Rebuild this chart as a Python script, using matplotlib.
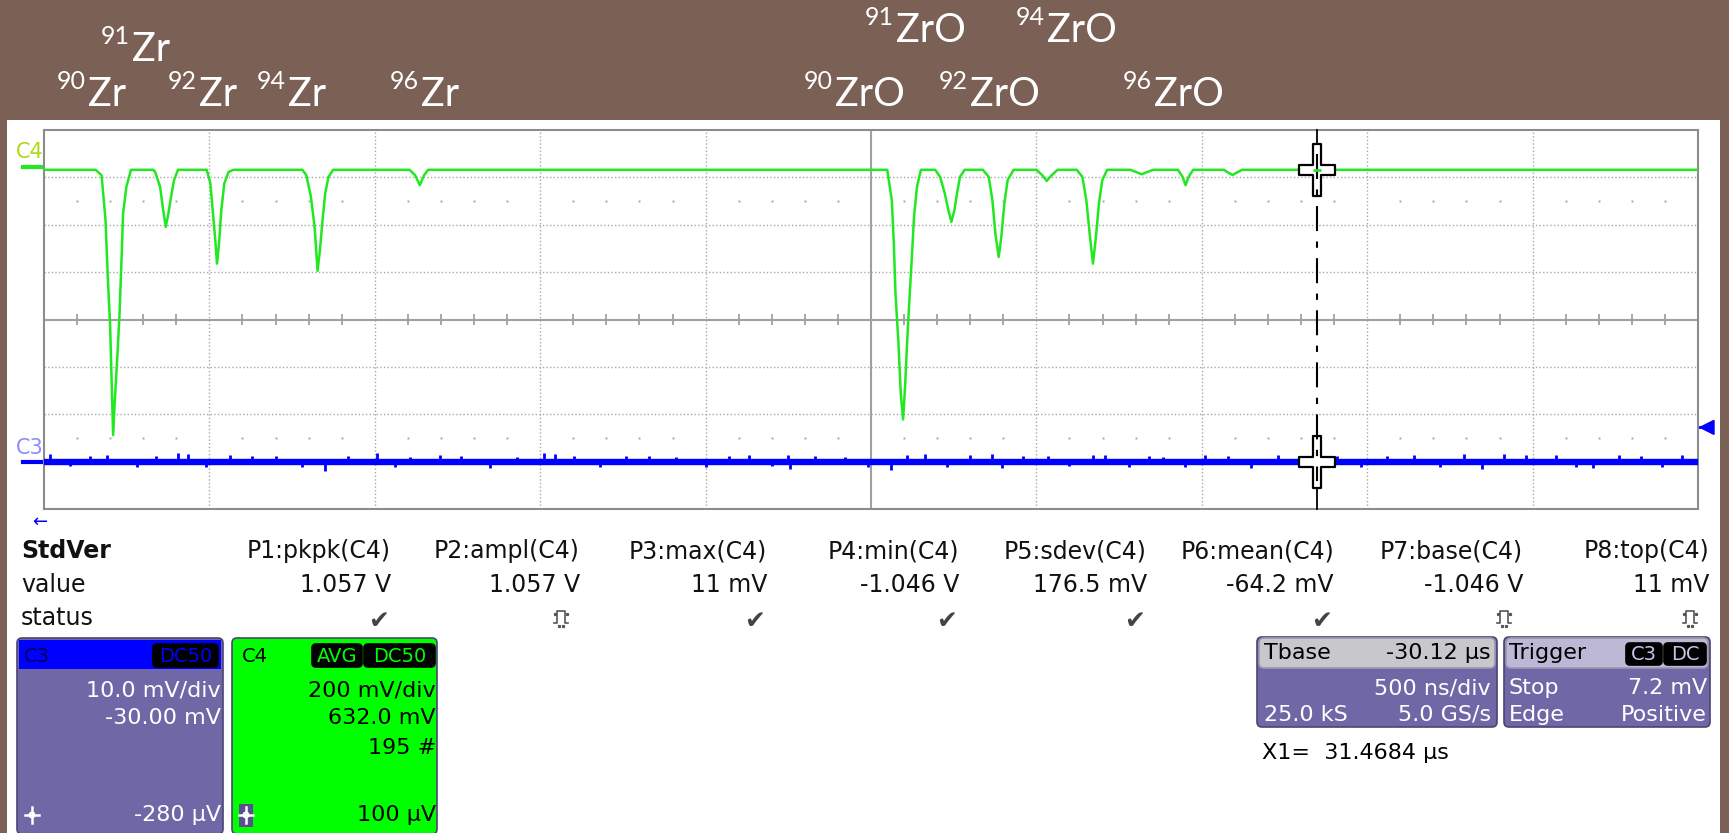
import matplotlib
matplotlib.use("Agg")
import matplotlib.pyplot as plt
from matplotlib.patches import Rectangle, FancyBboxPatch, Polygon, Circle
from matplotlib.path import Path

# ---------------- data ----------------
# C4 (green, averaged TOF signal): polyline vertices, time in us, amplitude in V
c4_time_us = [
    27.620,
    27.776, 27.794, 27.806, 27.813, 27.820, 27.826, 27.829, 27.834, 27.841, 27.848, 27.855, 27.859, 27.869, 27.883,  # 90Zr
    27.950, 27.956, 27.971, 27.979, 27.988, 27.996, 28.004, 28.013, 28.025,  # 91Zr
    28.112, 28.123, 28.130, 28.137, 28.143, 28.149, 28.156, 28.165, 28.178, 28.193,  # 92Zr
    28.401, 28.413, 28.427, 28.438, 28.447, 28.454, 28.461, 28.470, 28.480, 28.494,  # 94Zr
    28.725, 28.742, 28.756, 28.769, 28.781,  # 96Zr
    30.169, 30.183, 30.189, 30.194, 30.203, 30.210, 30.217, 30.223, 30.229, 30.236, 30.243, 30.250, 30.259, 30.271,  # 90ZrO
    30.314, 30.329, 30.343, 30.354, 30.363, 30.372, 30.380, 30.389, 30.403,  # 91ZrO
    30.458, 30.476, 30.487, 30.496, 30.506, 30.514, 30.523, 30.533, 30.551,  # 92ZrO
    30.620, 30.638, 30.651, 30.666, 30.684,  # 93ZrO
    30.742, 30.759, 30.771, 30.782, 30.791, 30.800, 30.809, 30.819, 30.834,  # 94ZrO
    30.904, 30.921, 30.938, 30.956, 30.973,
    31.048, 31.062, 31.071, 31.080, 31.094,  # 96ZrO
    31.187, 31.201, 31.213, 31.227, 31.242,
    32.620,
]
c4_volts = [
    0.0,
    0.0, -0.023, -0.213, -0.459, -0.663, -0.973, -1.120, -0.973, -0.804, -0.621, -0.353, -0.185, -0.072, 0.0,
    0.0, -0.009, -0.072, -0.157, -0.241, -0.185, -0.115, -0.044, 0.0,
    0.0, -0.058, -0.171, -0.283, -0.396, -0.311, -0.171, -0.058, -0.009, 0.0,
    0.0, -0.023, -0.115, -0.241, -0.427, -0.340, -0.227, -0.100, -0.030, 0.0,
    0.0, -0.023, -0.065, -0.023, 0.0,
    0.0, -0.129, -0.311, -0.522, -0.733, -0.944, -1.054, -0.916, -0.733, -0.551, -0.382, -0.199, -0.072, 0.0,
    0.0, -0.030, -0.100, -0.171, -0.220, -0.171, -0.100, -0.030, 0.0,
    0.0, -0.030, -0.129, -0.269, -0.368, -0.283, -0.143, -0.044, 0.0,
    0.0, -0.023, -0.047, -0.023, 0.0,
    0.0, -0.030, -0.129, -0.283, -0.396, -0.283, -0.143, -0.044, 0.0,
    0.0, -0.009, -0.019, -0.009, 0.0,
    0.0, -0.030, -0.065, -0.030, 0.0,
    0.0, -0.013, -0.022, -0.011, 0.0,
    0.0,
]

# C3 (blue trigger channel): flat level plus the visible noise spikes (us, mV)
c3_level_mv = 0.0
c3_spike_time_us = [27.638, 27.700, 27.760, 27.811, 27.900, 27.960, 28.025, 28.054, 28.110, 28.181,
                    28.250, 28.320, 28.400, 28.470, 28.540, 28.627, 28.680, 28.725, 28.817, 28.880,
                    28.968, 29.050, 29.130, 29.165, 29.222, 29.300, 29.380, 29.450, 29.530, 29.620,
                    29.690, 29.750, 29.820, 29.868, 29.875, 29.950, 30.040, 30.110, 30.181, 30.230,
                    30.284, 30.350, 30.420, 30.487, 30.516, 30.580, 30.655, 30.720, 30.790, 30.828,
                    30.900, 30.960, 31.002, 31.070, 31.129, 31.200, 31.270, 31.349, 31.420, 31.530,
                    31.600, 31.680, 31.760, 31.840, 31.912, 31.968, 32.035, 32.100, 32.191, 32.250,
                    32.303, 32.380, 32.448, 32.510, 32.571]
c3_spike_mv = [1.6, -1.0, 1.1, 1.4, -1.1, 1.2, 1.8, 1.6, -1.2, 1.3,
               1.1, 1.2, -1.2, -2.0, 1.1, 1.8, -1.1, 1.0, 1.4, 1.1,
               -1.4, 1.0, 1.8, 1.6, 1.2, -1.1, 1.2, 1.2, 1.0, -1.2,
               1.1, 1.4, -1.0, 1.5, -1.6, 1.2, 1.0, -1.1, -1.8, 1.3,
               1.6, -1.2, 1.3, 1.7, -1.4, 1.1, 1.2, -1.0, 1.3, 1.4,
               -1.1, 1.1, 1.0, -1.2, 1.3, 1.1, -1.3, 1.5, 1.0, 1.2,
               -1.1, 1.2, 1.4, -1.2, 1.6, -1.5, 1.7, 1.3, 1.4, -1.2,
               -1.3, 1.4, 1.2, -1.1, 1.5]

# scope settings (from the info boxes)
C4_VDIV = 0.200      # V/div
C4_OFFSET = 0.632    # V
C3_VDIV = 10.0       # mV/div
C3_OFFSET = -30.0    # mV
TBASE_US = -30.12
TDIV_US = 0.5
CURSOR_X1_US = 31.4684
TRIG_LEVEL_MV = 7.2

# isotope labels above the trace
iso_mass = ["90", "91", "92", "94", "96", "91", "94", "90", "92", "96"]
iso_name = ["Zr", "Zr", "Zr", "Zr", "Zr", "ZrO", "ZrO", "ZrO", "ZrO", "ZrO"]

# measurement table
param_names = ["P1:pkpk(C4)", "P2:ampl(C4)", "P3:max(C4)", "P4:min(C4)",
               "P5:sdev(C4)", "P6:mean(C4)", "P7:base(C4)", "P8:top(C4)"]
param_values = ["1.057 V", "1.057 V", "11 mV", "-1.046 V",
                "176.5 mV", "-64.2 mV", "-1.046 V", "11 mV"]
param_ok = [True, False, True, True, True, True, False, False]

# ---------------- layout (pixels of the 1729x833 image) ----------------
W, H = 1729, 833
BROWN = "#7a6055"
GREEN = "#22e822"
BLUE = "#0000ff"
PURPLE = "#7068a6"
FONT = "DejaVu Sans"

fig = plt.figure(figsize=(W / 100, H / 100), dpi=100, facecolor=BROWN)
renderer = fig.canvas.get_renderer()

bg = fig.add_axes([0, 0, 1, 1], zorder=0)
bg.set_xlim(0, W)
bg.set_ylim(H, 0)
bg.axis("off")
bg.add_patch(Rectangle((7, 120), 1713, 713, facecolor="white", edgecolor="none"))

# isotope labels: (superscript x, baseline y); the name follows the superscript
label_pos = [(57, 106), (101, 61), (168, 106), (257, 106), (390, 106),
             (865, 42), (1016, 42), (804, 106), (939, 106), (1123, 106)]
for m, n, (xs, yb) in zip(iso_mass, iso_name, label_pos):
    sup = bg.text(xs, yb - 17, m, color="white", fontsize=18, family="Lato",
                  ha="left", va="baseline")
    x_end = sup.get_window_extent(renderer).x1
    bg.text(x_end + 2, yb, n, color="white", fontsize=28.5, family="Lato",
            ha="left", va="baseline")

# ---------------- scope grid ----------------
x0, x1, y0, y1 = 44, 1698, 130, 509
ax = fig.add_axes([x0 / W, 1 - y1 / H, (x1 - x0) / W, (y1 - y0) / H], zorder=1)
t_center = -TBASE_US
ax.set_xlim(t_center - 5 * TDIV_US, t_center + 5 * TDIV_US)
ax.set_ylim(-4, 4)
ax.set_xticks([])
ax.set_yticks([])
for s in ax.spines.values():
    s.set_color("#8c8c8c")
    s.set_linewidth(1.5)

grid_kw = dict(color="#a8a8a8", lw=1.0, ls=(0, (1, 1.6)), zorder=1)
for k in range(1, 10):
    if k != 5:
        ax.axvline(t_center + (k - 5) * TDIV_US, **grid_kw)
for d in [-3, -2, -1, 1, 2, 3]:
    ax.axhline(d, **grid_kw)
ax.axvline(t_center, color="#a0a0a0", lw=1.5, zorder=1)
ax.axhline(0, color="#a0a0a0", lw=1.5, zorder=1)
minor_t = [t_center - 2.5 + 0.1 * i for i in range(1, 50) if i % 5]
ax.vlines(minor_t, -0.11, 0.11, color="#a0a0a0", lw=1.3, zorder=1)
for row in (2.5, -2.5):
    ax.plot(minor_t, [row] * len(minor_t), ls="none", marker="s", ms=1.4,
            color="#a8a8a8", mec="none", zorder=1)

# ---------------- traces ----------------
c4_div = [(v + C4_OFFSET) / C4_VDIV for v in c4_volts]
ax.plot(c4_time_us, c4_div, color=GREEN, lw=1.8, zorder=3)

c3_div = (c3_level_mv + C3_OFFSET) / C3_VDIV
ax.axhline(c3_div, color=BLUE, lw=4.6, zorder=3)
ax.vlines(c3_spike_time_us, c3_div, [(v + C3_OFFSET) / C3_VDIV for v in c3_spike_mv],
          color=BLUE, lw=2.0, zorder=3)

# ---------------- cursor ----------------
hw, hh, vw, vh = 18, 5.5, 4.5, 26.5
cross = Path([(-vw, vh), (vw, vh), (vw, hh), (hw, hh), (hw, -hh), (vw, -hh), (vw, -vh),
              (-vw, -vh), (-vw, -hh), (-hw, -hh), (-hw, hh), (-vw, hh), (-vw, vh)], closed=True)
c4_base = (0.0 + C4_OFFSET) / C4_VDIV
ax.plot([CURSOR_X1_US, CURSOR_X1_US], [4, c4_base], color="black", lw=1.3, zorder=4, clip_on=False)
ax.plot([CURSOR_X1_US, CURSOR_X1_US], [-4, c3_div], color="black", lw=1.3, zorder=4, clip_on=False)
ax.plot([CURSOR_X1_US] * 2, [c4_base, c3_div], ls="none", marker=cross, ms=2 * vh * 0.72,
        mfc="white", mec="black", mew=1.6, zorder=5, clip_on=False)
ax.plot([CURSOR_X1_US, CURSOR_X1_US], [3.5, -3.4], color="black", lw=1.5,
        ls=(0, (12, 5, 3, 5)), zorder=6)
ax.plot([CURSOR_X1_US], [c4_base], ls="none", marker="_", ms=6, color=GREEN, mew=2, zorder=7)

# trigger level arrow on the right edge
trig_y = 319.3 - (TRIG_LEVEL_MV + C3_OFFSET) / C3_VDIV * 47.4
bg.add_patch(Polygon([(1700, trig_y), (1714, trig_y - 7), (1714, trig_y + 7)],
                     closed=True, color=BLUE))
bg.plot([1698, 1703], [trig_y, trig_y], color=BLUE, lw=2)

# channel markers on the left
bg.text(16, 152, "C4", color="#a8dc14", fontsize=15, family=FONT, ha="left", va="center")
bg.plot([23, 45], [167, 167], color=GREEN, lw=3)
bg.text(16, 448, "C3", color="#8a8cff", fontsize=15, family=FONT, ha="left", va="center")
bg.plot([23, 45], [462, 462], color=BLUE, lw=3)

# ---------------- measurement table ----------------
bg.text(32, 522, "\u2190", color=BLUE, fontsize=13, family=FONT, ha="left", va="center")
bg.text(21, 558, "StdVer", fontsize=17, family=FONT, weight="bold", ha="left", va="baseline",
        color="#111111")
bg.text(21, 592, "value", fontsize=17, family=FONT, ha="left", va="baseline", color="#111111")
bg.text(21, 625, "status", fontsize=17, family=FONT, ha="left", va="baseline", color="#111111")
col_right = [391, 580, 767, 959, 1147, 1334, 1523, 1709]


def pulse_icon(x, y):
    bg.plot([x - 7, x - 4, x - 4, x + 4, x + 4, x + 7], [y + 6, y + 6, y - 6, y - 6, y + 6, y + 6],
            color="#555555", lw=1.2)
    bg.plot([x - 6, x + 6, x - 2, x + 2], [y - 3, y - 3, y + 9, y + 9], ls="none", marker="s",
            ms=1.3, color="#555555")


for name, val, ok, xr in zip(param_names, param_values, param_ok, col_right):
    bg.text(xr, 558, name, fontsize=17, family=FONT, ha="right", va="baseline", color="#111111")
    bg.text(xr, 592, val, fontsize=17, family=FONT, ha="right", va="baseline", color="#111111")
    if ok:
        bg.text(xr - 2, 628, "\u2714", fontsize=18, family=FONT, ha="right", va="baseline",
                color="#444444")
    else:
        pulse_icon(xr - 19, 617)

# ---------------- channel / timebase boxes ----------------


def box(x, y, w, h, fc, ec="#4a4670", r=5):
    bg.add_patch(FancyBboxPatch((x, y), w, h, boxstyle=f"round,pad=0,rounding_size={r}",
                                fc=fc, ec=ec, lw=1.2))


def tag(x, y, w, h, s, tc):
    box(x, y, w, h, "black", ec="black", r=4)
    bg.text(x + w / 2, y + h / 2 + 1, s, color=tc, fontsize=14, family=FONT,
            ha="center", va="center")


def crosshair(x, y, c):
    bg.plot([x - 7, x + 7], [y, y], color=c, lw=1.8)
    bg.plot([x, x], [y - 8, y + 8], color=c, lw=1.8)
    bg.add_patch(Circle((x, y), 3.5, fc=c, ec="none"))
    bg.add_patch(Circle((x, y), 1.6, fc="#6a5f9a", ec="none"))


TXT = 16
# C3 box
box(17, 638, 206, 196, PURPLE)
bg.add_patch(Rectangle((19, 640), 202, 29, fc=BLUE, ec="none"))
bg.text(24, 656, "C3", color="#000050", fontsize=14, family=FONT, ha="left", va="center")
tag(153, 644, 65, 23, "DC50", BLUE)
bg.text(221, 690, "10.0 mV/div", color="white", fontsize=TXT, family=FONT, ha="right", va="center")
bg.text(221, 718, "-30.00 mV", color="white", fontsize=TXT, family=FONT, ha="right", va="center")
bg.text(221, 815, "-280 \u00b5V", color="white", fontsize=TXT, family=FONT, ha="right", va="center")
crosshair(32, 815, "white")

# C4 box
box(232, 638, 205, 196, "#00ff00")
bg.text(242, 656, "C4", color="black", fontsize=14, family=FONT, ha="left", va="center")
tag(312, 644, 50, 23, "AVG", "#00ff00")
tag(364, 644, 71, 23, "DC50", "#00ff00")
for yy, s in [(690, "200 mV/div"), (718, "632.0 mV"), (748, "195 #"), (815, "100 \u00b5V")]:
    bg.text(436, yy, s, color="black", fontsize=TXT, family=FONT, ha="right", va="center")
bg.add_patch(Rectangle((239, 804), 14, 23, fc="#5a5090", ec="none"))
crosshair(246, 815, "white")

# timebase box
box(1257, 637, 240, 90, PURPLE)
box(1259, 638, 236, 30, "#c8c8cc", ec="#9a98b0", r=5)
bg.text(1264, 653, "Tbase", color="black", fontsize=TXT, family=FONT, ha="left", va="center")
bg.text(1491, 653, f"{TBASE_US:.2f} \u00b5s", color="black", fontsize=TXT, family=FONT,
        ha="right", va="center")
bg.text(1491, 688, "500 ns/div", color="white", fontsize=TXT, family=FONT, ha="right", va="center")
bg.text(1264, 715, "25.0 kS", color="white", fontsize=TXT, family=FONT, ha="left", va="center")
bg.text(1491, 715, "5.0 GS/s", color="white", fontsize=TXT, family=FONT, ha="right", va="center")

# trigger box
box(1504, 637, 206, 90, PURPLE)
box(1506, 638, 202, 30, "#bdb8d6", ec="#9a98b0", r=5)
bg.text(1509, 653, "Trigger", color="black", fontsize=TXT, family=FONT, ha="left", va="center")
tag(1626, 643, 36, 22, "C3", "#c8c4e8")
tag(1664, 643, 42, 22, "DC", "#c8c4e8")
bg.text(1509, 688, "Stop", color="white", fontsize=TXT, family=FONT, ha="left", va="center")
bg.text(1707, 688, f"{TRIG_LEVEL_MV} mV", color="white", fontsize=TXT, family=FONT,
        ha="right", va="center")
bg.text(1509, 715, "Edge", color="white", fontsize=TXT, family=FONT, ha="left", va="center")
bg.text(1707, 715, "Positive", color="white", fontsize=TXT, family=FONT, ha="right", va="center")

bg.text(1262, 753, f"X1=  {CURSOR_X1_US} \u00b5s", color="black", fontsize=TXT, family=FONT,
        ha="left", va="center")

fig.savefig("out.png", dpi=100, facecolor=BROWN)
